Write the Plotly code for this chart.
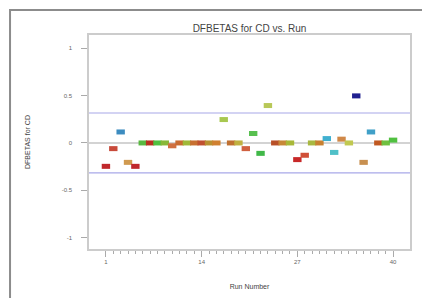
import plotly.graph_objects as go

runs = list(range(1, 41))
dfbetas = [-0.247, -0.06, 0.116, -0.205, -0.247, 0.0, 0.0, 0.0, 0.0, -0.03,
           0.0, 0.0, 0.0, 0.0, 0.0, 0.0, 0.247, 0.0, 0.0, -0.06,
           0.10, -0.11, 0.395, 0.0, 0.0, 0.0, -0.176, -0.13, 0.0, 0.0,
           0.046, -0.10, 0.04, 0.0, 0.497, -0.205, 0.116, 0.0, 0.0, 0.03]
colors = ["#c0282c", "#c84a3a", "#3c8cc0", "#d09a50", "#c0282c", "#58b840", "#b83020", "#50c040", "#88b838", "#d07040",
          "#c86a30", "#a0b838", "#c87030", "#c05030", "#b89030", "#d08030", "#a8c850", "#c07030", "#c0b040", "#d06040",
          "#58c050", "#40b848", "#b8c858", "#b85028", "#c88838", "#a8b838", "#c82828", "#d05038", "#a8b840", "#c88030",
          "#40b0d0", "#50c0c8", "#d08848", "#c0c850", "#202090", "#c89050", "#40a0c8", "#c05820", "#70c040", "#50c040"]
cutoff = 0.316
x_ticks = [1, 14, 27, 40]
y_ticks = [1, 0.5, 0, -0.5, -1]
y_labels = ["1", "0.5", "0", "-0.5", "-1"]

fig = go.Figure()
fig.add_trace(go.Scatter(
    x=runs, y=dfbetas, mode="markers",
    marker=dict(symbol="line-ew", size=6, line=dict(width=5, color=colors)),
    showlegend=False, hoverinfo="x+y"))

fig.add_hline(y=0, line=dict(color="#c4c4c4", width=1.5), layer="below")
fig.add_hline(y=cutoff, line=dict(color="#a8a8e8", width=1.2), layer="below")
fig.add_hline(y=-cutoff, line=dict(color="#a8a8e8", width=1.2), layer="below")

# outer frame
fig.add_shape(type="rect", xref="paper", yref="paper",
              x0=-0.246, x1=1.06, y0=-0.25, y1=1.117,
              line=dict(color="#8c8c8c", width=2), layer="above")

fig.update_layout(
    width=422, height=298, autosize=False,
    margin=dict(l=89, r=12, t=35, b=49, autoexpand=False),
    paper_bgcolor="white", plot_bgcolor="white",
    font=dict(family="Liberation Sans, Arial, sans-serif", color="#555555", size=6),
    title=dict(text="DFBETAS for CD vs. Run", x=0.5, xref="paper", y=1 - 28 / 298,
               yanchor="middle", font=dict(size=10, color="#444444"), automargin=False),
    xaxis=dict(range=[-1.3, 42.3], tickmode="array", tickvals=x_ticks, automargin=False,
               ticks="outside", ticklen=6, tickcolor="#aaaaaa", tickwidth=1,
               minor=dict(tickmode="array", tickvals=runs, ticks="outside", ticklen=3,
                          tickcolor="#aaaaaa", showgrid=False),
               showgrid=False, zeroline=False, showline=True, mirror=True,
               linecolor="#cccccc", linewidth=1.5,
               tickfont=dict(size=6, color="#666666"),
               title=dict(text="Run Number", font=dict(size=7, color="#444444"), standoff=20)),
    yaxis=dict(range=[-1.12, 1.14], tickmode="array", tickvals=y_ticks, ticktext=y_labels,
               automargin=False,
               ticks="outside", ticklen=6, tickcolor="#aaaaaa", tickwidth=1,
               ticklabelstandoff=8,
               showgrid=False, zeroline=False, showline=True, mirror=True,
               linecolor="#cccccc", linewidth=1.5,
               tickfont=dict(size=6, color="#666666"),
               title=dict(text="DFBETAS for CD", font=dict(size=7, color="#444444"), standoff=30)),
)

fig.write_html("out.html", config={"displayModeBar": False},
               post_script="document.body.style.margin='0';")
